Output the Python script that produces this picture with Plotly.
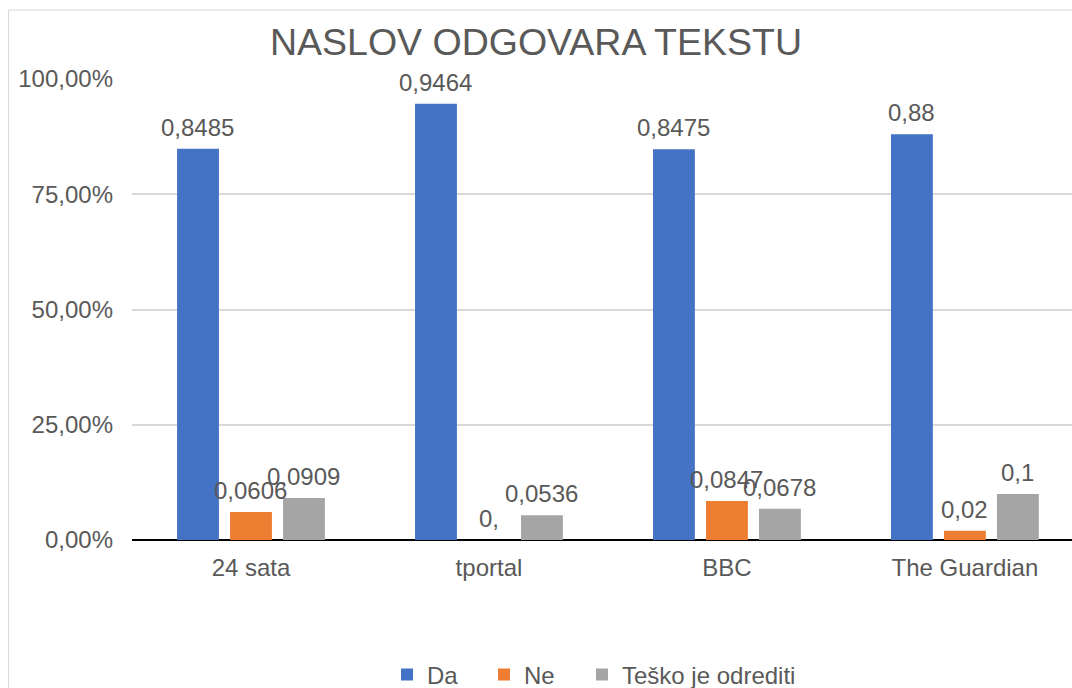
import plotly.graph_objects as go

categories = ["24 sata", "tportal", "BBC", "The Guardian"]
series_names = ["Da", "Ne", "Teško je odrediti"]
da = [0.8485, 0.9464, 0.8475, 0.88]
ne = [0.0606, 0.0, 0.0847, 0.02]
tesko = [0.0909, 0.0536, 0.0678, 0.1]
colors = ["#4472C4", "#ED7D31", "#A5A5A5"]
y_ticks = [0, 0.25, 0.5, 0.75, 1.0]

FONT = "Liberation Sans, Arial, sans-serif"
TXT = "#595959"
FS = 24
W, H = 1072, 688
L, T, B = 132, 79, 148
PW, PH = W - L, H - T - B

def fmt(v):
    s = f"{v:g}".replace(".", ",")
    return s if "," in s else s + ","

fig = go.Figure()
all_series = [da, ne, tesko]
legend_ids = ["legend", "legend2", "legend3"]
legend_x = [387, 484, 582]
for name, vals, col, lid in zip(series_names, all_series, colors, legend_ids):
    fig.add_trace(go.Bar(name=name, x=categories, y=vals, marker=dict(color=col, line=dict(width=0)),
                         cliponaxis=False, legend=lid, showlegend=True))

annotations = []
slot_px = 53
for i, vals in enumerate(all_series):
    for j, v in enumerate(vals):
        annotations.append(dict(x=categories[j], y=v, xref="x", yref="y", text=fmt(v),
                                showarrow=False, xshift=(i - 1) * slot_px, yshift=6,
                                yanchor="bottom", xanchor="center",
                                font=dict(family=FONT, size=FS, color=TXT)))

legends = {}
for lid, lx in zip(legend_ids, legend_x):
    legends[lid] = dict(orientation="h", xref="container", yref="container", x=lx / W, xanchor="left",
                        y=(H - 675) / H, yanchor="middle", font=dict(family=FONT, size=FS, color=TXT),
                        bgcolor="rgba(0,0,0,0)")

fig.update_layout(
    width=W, height=H,
    showlegend=True,
    margin=dict(l=L, r=0, t=T, b=B),
    paper_bgcolor="white", plot_bgcolor="white",
    separators=",.",
    barmode="group", bargap=0.332, bargroupgap=0.21,
    title=dict(text="NASLOV ODGOVARA TEKSTU", x=536 / W, xanchor="center", y=1 - 42 / H,
               yanchor="middle", font=dict(family=FONT, size=37.5, color=TXT)),
    font=dict(family=FONT, size=FS, color=TXT),
    xaxis=dict(range=[-0.5, 3.45], showgrid=False, showline=False, ticks="",
               tickfont=dict(family=FONT, size=FS, color=TXT), ticklabelstandoff=11),
    yaxis=dict(range=[0, 1], tickvals=y_ticks, tickformat=".2%", showgrid=True, gridcolor="#D9D9D9",
               gridwidth=2, zeroline=True, zerolinecolor="black", zerolinewidth=2, showline=False,
               ticks="", tickfont=dict(family=FONT, size=FS, color=TXT), ticklabelstandoff=18),
    annotations=annotations,
    shapes=[dict(type="rect", xref="paper", yref="paper", x0=(8.5 - L) / PW, x1=1.2,
                 y0=-0.6, y1=(H - B - 10) / PH, line=dict(color="#D9D9D9", width=1),
                 fillcolor="rgba(0,0,0,0)", layer="below")],
    **legends,
)

fig.write_html("out.html", config={"displayModeBar": False},
               post_script="document.body.style.margin='0';document.body.style.overflow='hidden';")
